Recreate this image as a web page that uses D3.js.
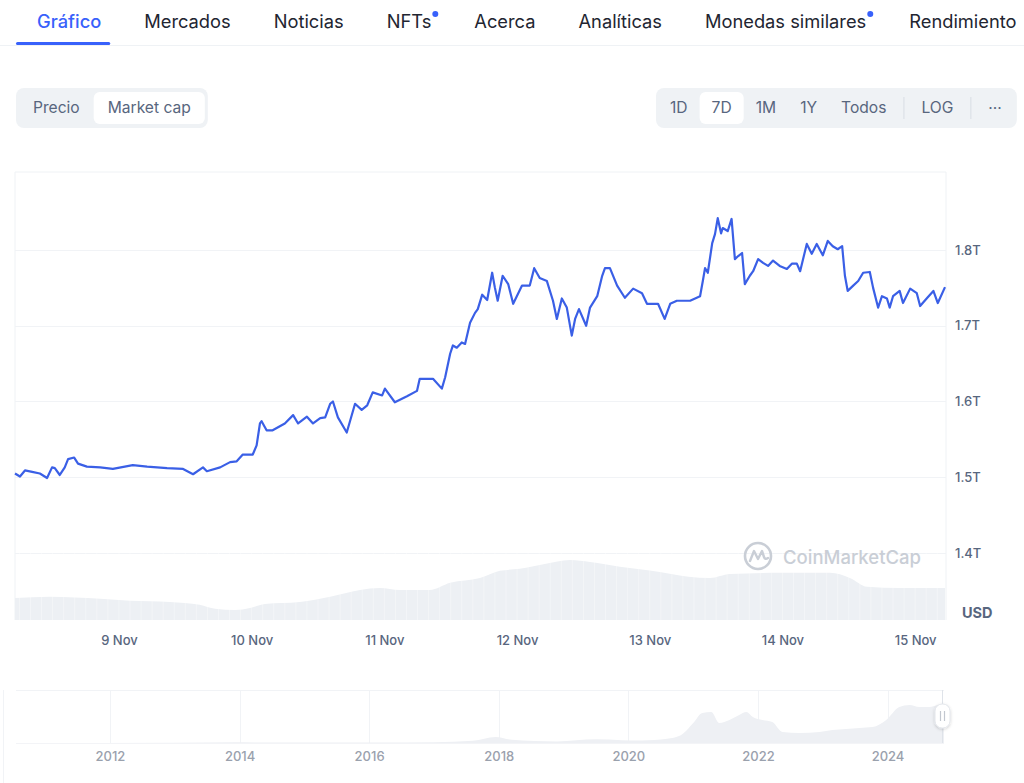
<!DOCTYPE html>
<html><head><meta charset="utf-8">
<script src="https://cdn.jsdelivr.net/npm/d3@7"></script>
<style>
body{margin:0;background:#fff;font-family:Inter,"Noto Sans",sans-serif;}
svg{display:block}
</style></head><body>
<svg id="c" width="1024" height="783"></svg>
<script>
// ---------- DATA ----------
const tabs = ["Gráfico","Mercados","Noticias","NFTs","Acerca","Analíticas","Monedas similares","Rendimiento"];
const tabDots = ["NFTs","Monedas similares"];
const modeButtons = ["Precio","Market cap"];
const rangeButtons = ["1D","7D","1M","1Y","Todos"];
const extraButtons = ["LOG","···"];
const startDate = [2024, 10, 8]; // 8 Nov 2024 00:00
// hours since startDate
const capHours = [5.2,6.1,7.0,8.3,9.7,11.0,11.9,12.4,13.3,14.2,14.8,15.9,16.6,18.2,20.6,22.9,26.5,29.1,32.7,35.6,37.4,39.2,39.9,42.3,44.1,45.3,46.4,48.2,48.9,49.5,49.8,50.7,51.8,54.0,55.5,56.4,58.0,59.1,60.4,61.3,62.2,62.7,63.6,65.2,66.7,67.9,68.9,69.9,71.6,72.1,73.9,76.1,77.9,78.4,80.8,82.4,83.0,83.9,84.4,85.1,86.0,86.6,87.5,88.4,88.9,89.7,90.6,91.5,92.0,92.5,93.4,94.4,95.3,96.9,98.3,99.1,100.1,101.4,102.5,103.2,104.1,105.0,105.9,106.5,107.2,108.5,109.2,110.5,111.4,111.9,112.8,114.1,115.5,117.0,118.6,119.5,121.5,122.7,123.7,124.9,127.3,129.1,129.6,130.0,130.5,131.3,131.8,132.3,132.9,133.2,134.1,134.8,135.4,136.0,136.7,137.2,138.1,138.7,139.6,140.5,141.4,142.3,143.5,144.8,145.7,146.6,147.2,148.4,149.3,150.2,151.3,152.2,153.1,154.0,154.8,155.3,155.8,156.8,157.7,158.6,159.8,160.4,161.3,162.0,162.9,163.4,164.0,165.2,165.8,167.1,168.3,168.9,170.2,171.3,172.1,173.4];
// market cap, trillions USD
const capValues = [1.505,1.501,1.509,1.507,1.505,1.499,1.513,1.512,1.503,1.513,1.524,1.526,1.518,1.514,1.513,1.511,1.516,1.514,1.512,1.511,1.504,1.513,1.508,1.513,1.520,1.521,1.530,1.530,1.542,1.571,1.574,1.562,1.562,1.571,1.582,1.571,1.580,1.571,1.578,1.579,1.597,1.600,1.579,1.559,1.597,1.589,1.595,1.612,1.608,1.617,1.599,1.607,1.614,1.630,1.630,1.617,1.632,1.663,1.674,1.671,1.678,1.676,1.704,1.717,1.722,1.741,1.734,1.770,1.750,1.733,1.766,1.755,1.729,1.753,1.753,1.776,1.763,1.759,1.733,1.709,1.736,1.724,1.687,1.709,1.722,1.700,1.724,1.739,1.766,1.776,1.776,1.753,1.737,1.749,1.743,1.729,1.729,1.709,1.729,1.733,1.733,1.739,1.759,1.776,1.770,1.809,1.821,1.842,1.822,1.829,1.825,1.841,1.788,1.792,1.796,1.755,1.766,1.772,1.788,1.783,1.779,1.786,1.779,1.775,1.782,1.782,1.772,1.808,1.795,1.808,1.793,1.812,1.805,1.801,1.805,1.766,1.746,1.753,1.759,1.770,1.771,1.750,1.724,1.739,1.736,1.724,1.739,1.746,1.730,1.749,1.743,1.726,1.737,1.746,1.730,1.751];
// 24h volume, billions USD
const volHours = [5.2,11.5,20.6,26.0,33.2,38.6,41.4,45.0,47.7,50.4,56.7,62.2,67.6,71.2,74.8,80.2,83.9,89.3,92.9,96.5,101.0,105.6,109.2,114.6,121.8,127.0,130.9,134.5,143.5,152.6,156.2,159.3,165.2,173.4];
const volValues = [55,58,53,48,45,38,28,25,30,40,45,58,75,80,75,75,93,105,123,128,140,150,145,133,120,108,105,115,118,118,105,83,80,80];
const yTicks = [1.4,1.5,1.6,1.7,1.8];
const yUnit = "USD";
// navigator: full history (decimal year -> market cap, trillions)
const navYears = [2010.55,2013.0,2013.9,2014.5,2016.0,2017.0,2017.6,2017.95,2018.2,2018.9,2019.5,2019.9,2020.2,2020.6,2020.8,2021.0,2021.14,2021.28,2021.4,2021.56,2021.71,2021.82,2021.92,2022.07,2022.22,2022.38,2022.64,2022.95,2023.15,2023.57,2023.77,2023.98,2024.18,2024.34,2024.49,2024.64,2024.8,2024.87];
const navValues = [0.0,0.01,0.03,0.02,0.02,0.04,0.10,0.28,0.15,0.07,0.17,0.13,0.12,0.2,0.35,0.93,1.40,1.44,0.93,1.07,1.30,1.44,1.21,1.07,0.98,0.51,0.47,0.51,0.60,0.70,0.74,1.07,1.67,1.77,1.67,1.67,1.77,1.75];
const navTickYears = [2012,2014,2016,2018,2020,2022,2024];
const watermark = "CoinMarketCap";

// ---------- HELPERS ----------
const t0 = new Date(startDate[0], startDate[1], startDate[2]).getTime();
const hDate = h => new Date(t0 + h * 3600e3);
const yDate = y => { const yr = Math.floor(y); const a = new Date(yr,0,1).getTime(), b = new Date(yr+1,0,1).getTime(); return new Date(a + (y-yr)*(b-a)); };
const capData = capHours.map((h,i)=>({d:hDate(h), v:capValues[i]}));
const volData = volHours.map((h,i)=>({d:hDate(h), v:volValues[i]}));
const navData = navYears.map((y,i)=>({d:yDate(y), v:navValues[i]}));

const svg = d3.select("#c");
const FONT = "Inter, 'Noto Sans', sans-serif";
const GREY = "#58667e";

// ---------- TABS ----------
const tabG = svg.append("g");
svg.append("line").attr("x1",0).attr("x2",1024).attr("y1",45.5).attr("y2",45.5).attr("stroke","#eff2f5").attr("stroke-width",1);
let tx = 37;
tabs.forEach((t,i)=>{
  const el = tabG.append("text").attr("x",tx).attr("y",28).text(t)
    .attr("font-family",FONT).attr("font-size",18.3).attr("font-weight",i===0?500:400)
    .attr("fill", i===0 ? "#3861fb" : "#222531");
  const w = el.node().getComputedTextLength();
  if(i===0){
    tabG.append("rect").attr("x",tx-21).attr("y",42).attr("width",w+30).attr("height",3).attr("rx",1.5).attr("fill","#3861fb");
  }
  if(tabDots.includes(t)){
    tabG.append("circle").attr("cx",tx+w+4).attr("cy",14).attr("r",3).attr("fill","#3861fb");
  }
  tx += w + 43;
});

// ---------- BUTTON GROUPS ----------
function btnGroup(x0, items, active, seps, pad, inset){
  const g = svg.append("g");
  const bg = g.append("rect").attr("x",x0).attr("y",88).attr("height",40).attr("rx",8).attr("fill","#eff2f5");
  let x = x0 + inset;
  items.forEach((t,i)=>{
    const tmp = g.append("text").attr("x",0).attr("y",113).text(t).attr("font-family",FONT).attr("font-size",15.6).attr("font-weight",400).attr("fill",GREY);
    const w = tmp.node().getComputedTextLength();
    if(t===active){
      g.insert("rect","text").attr("x",x).attr("y",92).attr("width",w+pad*2).attr("height",32).attr("rx",6).attr("fill","#fff");
    }
    tmp.attr("x", x+pad);
    x += w + pad*2;
    if(seps.includes(i)){
      g.append("line").attr("x1",x+5.5).attr("x2",x+5.5).attr("y1",97).attr("y2",119).attr("stroke","#d8dde4");
      x += 11;
    }
  });
  bg.attr("width", x - x0 + 3);
  return g;
}
btnGroup(16, modeButtons, "Market cap", [], 14, 3);
btnGroup(656, rangeButtons.concat(extraButtons), "7D", [4,5], 12, 2);

// ---------- MAIN CHART ----------
const L = 15, R = 946, T = 172, B = 620;
const x = d3.scaleTime().domain(d3.extent(capData, d=>d.d)).range([L, 945]);
const y = d3.scaleLinear().domain([1.4, 1.8]).range([553, 250]);
const yv = d3.scaleLinear().domain([0, 175]).range([B, B-70]);

// frame
svg.append("path").attr("d",`M${L},${B}V${T}H${R}V${B}`).attr("fill","none").attr("stroke","#eff2f5").attr("stroke-width",1);
// grid
svg.append("g").selectAll("line").data(yTicks).join("line")
  .attr("x1",L).attr("x2",R).attr("y1",d=>Math.round(y(d))+0.5).attr("y2",d=>Math.round(y(d))+0.5)
  .attr("stroke","#f1f3f6");
// y axis labels
const yAxis = d3.axisRight(y).tickValues(yTicks).tickFormat(d=>d.toFixed(1)+"T").tickSize(0).tickPadding(9);
const yg = svg.append("g").attr("transform",`translate(${R},0)`).call(yAxis);
yg.select(".domain").remove();
yg.selectAll("text").attr("font-family",FONT).attr("font-size",13).attr("fill",GREY).attr("font-weight",500);
svg.append("text").attr("x",962).attr("y",618).text(yUnit).attr("font-family",FONT).attr("font-size",14.5).attr("font-weight",700).attr("fill",GREY);

// volume
svg.append("path").datum(volData)
  .attr("d", d3.area().x(d=>x(d.d)).y0(B).y1(d=>yv(d.v)).curve(d3.curveMonotoneX))
  .attr("fill","#edf0f4");
// faint vertical stripes over volume
const stripeTimes = d3.timeHour.every(2).range(x.domain()[0], x.domain()[1]);
svg.append("g").selectAll("line").data(stripeTimes).join("line")
  .attr("x1",d=>x(d)).attr("x2",d=>x(d)).attr("y1",B-80).attr("y2",B)
  .attr("stroke","#fff").attr("stroke-opacity",0.45).attr("stroke-width",0.8);

// watermark
const wm = svg.append("g").attr("transform","translate(758,556)");
wm.append("circle").attr("r",13).attr("fill","none").attr("stroke","#c9ced6").attr("stroke-width",2.6);
wm.append("path").attr("d","M-8,5 L-4,-5 L0,3 L4,-5 L6,1 Q7,4 10,2").attr("fill","none").attr("stroke","#c9ced6").attr("stroke-width",2.4).attr("stroke-linejoin","round").attr("stroke-linecap","round");
svg.append("text").attr("x",783).attr("y",564).text(watermark).attr("font-family",FONT).attr("font-size",18.5).attr("font-weight",500).attr("fill","#c9ced6");

// line
svg.append("path").datum(capData)
  .attr("d", d3.line().x(d=>x(d.d)).y(d=>y(d.v)))
  .attr("fill","none").attr("stroke","#3a5fe6").attr("stroke-width",2.2).attr("stroke-linejoin","round");

// x axis
const days = d3.timeDay.every(1).range(x.domain()[0], x.domain()[1]).filter(d=>x(d)>L+20);
const xAxis = d3.axisBottom(x).tickValues(days).tickFormat(d3.timeFormat("%-d %b")).tickSize(0).tickPadding(0);
const xg = svg.append("g").attr("transform",`translate(0,636)`).call(xAxis);
xg.select(".domain").remove();
xg.selectAll("text").attr("font-family",FONT).attr("font-size",13).attr("fill",GREY).attr("font-weight",500);

// ---------- NAVIGATOR ----------
const NT = 690, NB = 743, NL = 16, NR = 944;
const xn = d3.scaleTime().domain([yDate(2010.55), yDate(2024.87)]).range([NL, NR]);
const yn = d3.scaleLinear().domain([0, 2]).range([NB, NB-43]);
svg.append("line").attr("x1",NL).attr("x2",NR).attr("y1",NT+0.5).attr("y2",NT+0.5).attr("stroke","#f1f3f6");
svg.append("line").attr("x1",3.5).attr("x2",3.5).attr("y1",NT).attr("y2",783).attr("stroke","#f1f3f6");
const navTicks = navTickYears.map(yr=>new Date(yr,0,1));
svg.append("g").selectAll("line").data(navTicks).join("line")
  .attr("x1",d=>Math.round(xn(d))+0.5).attr("x2",d=>Math.round(xn(d))+0.5).attr("y1",NT).attr("y2",NB)
  .attr("stroke","#f1f3f6");
svg.append("path").datum(navData)
  .attr("d", d3.area().x(d=>xn(d.d)).y0(NB).y1(d=>yn(d.v)).curve(d3.curveMonotoneX))
  .attr("fill","#eef0f4");
svg.append("line").attr("x1",NL).attr("x2",NR).attr("y1",NB+0.5).attr("y2",NB+0.5).attr("stroke","#f3f4f7");
const xnAxis = d3.axisBottom(xn).tickValues(navTicks).tickFormat(d3.timeFormat("%Y")).tickSize(0).tickPadding(0);
const xng = svg.append("g").attr("transform",`translate(0,752)`).call(xnAxis);
xng.select(".domain").remove();
xng.selectAll("text").attr("font-family",FONT).attr("font-size",13).attr("fill","#9aa1ad").attr("font-weight",500);

// handle
const defs = svg.append("defs");
const f = defs.append("filter").attr("id","sh").attr("x","-50%").attr("y","-50%").attr("width","200%").attr("height","200%");
f.append("feDropShadow").attr("dx",0).attr("dy",1).attr("stdDeviation",1.5).attr("flood-color","#000").attr("flood-opacity",0.18);
svg.append("line").attr("x1",942.5).attr("x2",942.5).attr("y1",NT).attr("y2",NB).attr("stroke","#dfe3e9");
svg.append("rect").attr("x",935).attr("y",704).attr("width",15).attr("height",24).attr("rx",7).attr("fill","#fff").attr("stroke","#e3e6eb").attr("filter","url(#sh)");
[940.5,944.5].forEach(px=>svg.append("line").attr("x1",px).attr("x2",px).attr("y1",711).attr("y2",721).attr("stroke","#c2c7cf").attr("stroke-width",1.2));
</script>
</body></html>
